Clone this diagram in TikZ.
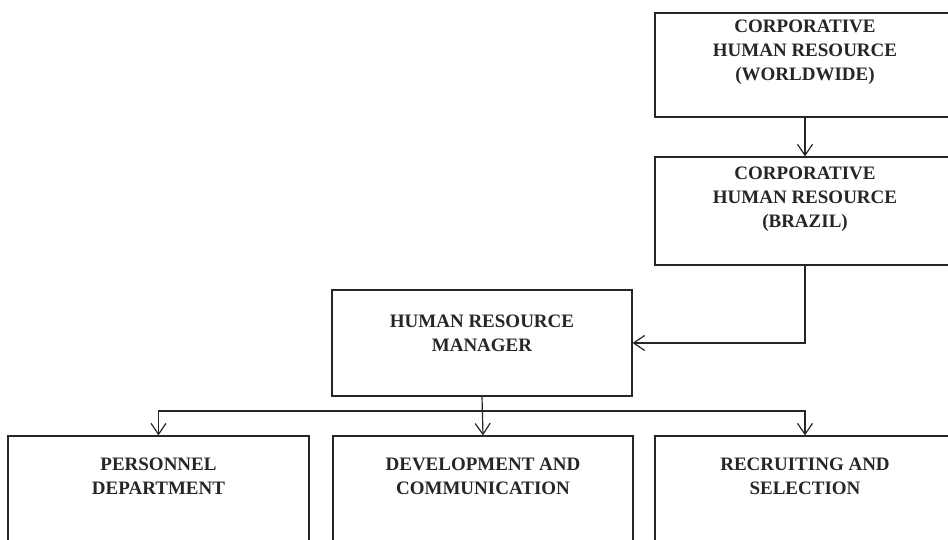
\documentclass[tikz,border=0pt]{standalone}
\usepackage{fontspec}
\setmainfont{Liberation Serif}
\usetikzlibrary{arrows.meta,calc}
\begin{document}
\begin{tikzpicture}[x=1pt,y=-1pt,
  box/.style={draw=black!85,line width=1.2pt,minimum width=300pt,inner sep=0pt},
  txt/.style={anchor=north,align=center,inner sep=0pt,text=black!85,
    font=\fontsize{19}{24}\selectfont\bfseries},
  arr/.style={draw=black!85,line width=1.2pt,-{Straight Barb[length=11pt,width=15pt,line width=1.2pt]}},
  ln/.style={draw=black!85,line width=1.2pt}]
\useasboundingbox (0,0) rectangle (948,540);
\clip (0,0) rectangle (948,540);
\fill[white] (0,0) rectangle (948,540);
% boxes
\node[box,minimum height=104pt] (cw) at (805,65) {};
\node[box,minimum height=108pt] (cb) at (805,211) {};
\node[box,minimum height=106pt] (hrm) at (482,343) {};
\node[box,minimum width=301pt,minimum height=140pt] (pd) at (158.5,506) {};
\node[box,minimum height=140pt] (dc) at (483,506) {};
\node[box,minimum height=140pt] (rs) at (805,506) {};
% texts
\node[txt] (tcw) at ($(cw.north)+(0,7.5)$) {CORPORATIVE\\HUMAN RESOURCE\\(WORLDWIDE)};
\node[txt] (tcb) at ($(cb.north)+(0,10)$) {CORPORATIVE\\HUMAN RESOURCE\\(BRAZIL)};
\node[txt] (thrm) at ($(hrm.north)+(0,25)$) {HUMAN RESOURCE\\MANAGER};
\node[txt] (tpd) at ($(pd.north)+(0,22)$) {PERSONNEL\\DEPARTMENT};
\node[txt] (tdc) at ($(dc.north)+(0,22)$) {DEVELOPMENT AND\\COMMUNICATION};
\node[txt] (trs) at ($(rs.north)+(0,22)$) {RECRUITING AND\\SELECTION};
% connectors
\coordinate (bus) at (0,411);
\draw[arr] (cw.south) -- (cb.north);
\draw[arr] (cb.south) |- (hrm.east);
\draw[arr] (hrm.south) -- (dc.north);
\draw[arr] (hrm.south |- bus) -| (pd.north);
\draw[arr] (hrm.south |- bus) -| (rs.north);
\end{tikzpicture}
\end{document}
